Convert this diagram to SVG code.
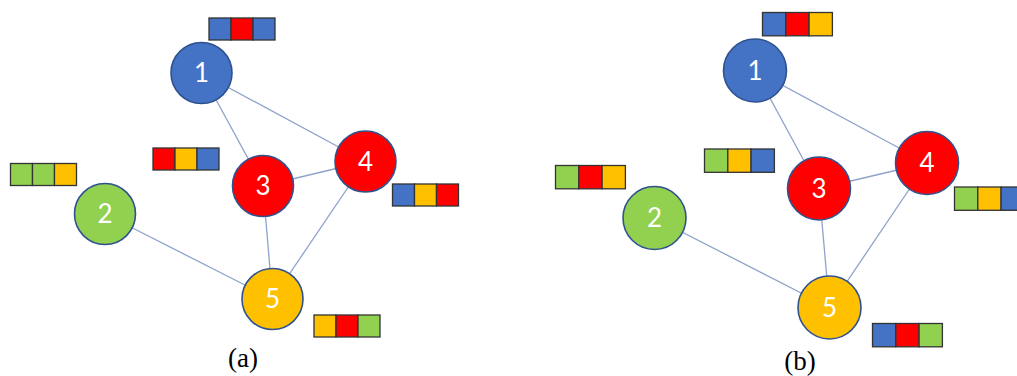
<svg xmlns="http://www.w3.org/2000/svg" width="1017" height="376" viewBox="0 0 1017 376">
<style>
.edge{stroke:#8FA3CA;stroke-width:1.3;fill:none}
.nd{stroke:#2F528F;stroke-width:1.6}
.b{fill:#4472C4}.r{fill:#FF0000}.g{fill:#92D050}.y{fill:#FFC000}
.cell{stroke:#333;stroke-width:1.3}
.lbl{font-family:Lato,"Open Sans",sans-serif;font-size:26px;fill:#fff;text-anchor:middle}
.cap{font-family:"Liberation Serif",serif;fill:#000;text-anchor:middle}
</style>
<rect width="1017" height="376" fill="#fff"/>
<!-- Panel (a) -->
<g id="edges-a">
<line class="edge" x1="201.5" y1="73" x2="263" y2="186"/>
<line class="edge" x1="201.5" y1="73" x2="365.5" y2="161.5"/>
<line class="edge" x1="263" y1="186" x2="365.5" y2="161.5"/>
<line class="edge" x1="263" y1="186" x2="272.5" y2="299"/>
<line class="edge" x1="365.5" y1="161.5" x2="272.5" y2="299"/>
<line class="edge" x1="105" y1="214" x2="272.5" y2="299"/>
</g>
<g id="a-node1"><circle class="nd b" cx="201.5" cy="73" r="30.5"/><text class="lbl" x="201.5" y="82">1</text></g>
<g id="a-node2"><circle class="nd g" cx="105" cy="214" r="30.5"/><text class="lbl" x="105" y="223">2</text></g>
<g id="a-node3"><circle class="nd r" cx="263" cy="186" r="30.5"/><text class="lbl" x="263" y="195">3</text></g>
<g id="a-node4"><circle class="nd r" cx="365.5" cy="161.5" r="30.5"/><text class="lbl" x="365.5" y="170.5">4</text></g>
<g id="a-node5"><circle class="nd y" cx="272.5" cy="299" r="30.5"/><text class="lbl" x="272.5" y="308">5</text></g>
<g id="a-bar1"><rect class="cell b" x="209" y="18" width="22" height="22"/><rect class="cell r" x="231" y="18" width="22" height="22"/><rect class="cell b" x="253" y="18" width="22" height="22"/></g>
<g id="a-bar3"><rect class="cell r" x="153" y="148" width="22" height="22"/><rect class="cell y" x="175" y="148" width="22" height="22"/><rect class="cell b" x="197" y="148" width="22" height="22"/></g>
<g id="a-bar2"><rect class="cell g" x="10.5" y="163.5" width="22" height="22"/><rect class="cell g" x="32.5" y="163.5" width="22" height="22"/><rect class="cell y" x="54.5" y="163.5" width="22" height="22"/></g>
<g id="a-bar4"><rect class="cell b" x="392.5" y="184" width="22" height="22"/><rect class="cell y" x="414.5" y="184" width="22" height="22"/><rect class="cell r" x="436.5" y="184" width="22" height="22"/></g>
<g id="a-bar5"><rect class="cell y" x="314" y="315" width="22" height="22"/><rect class="cell r" x="336" y="315" width="22" height="22"/><rect class="cell g" x="358" y="315" width="22" height="22"/></g>
<text class="cap" x="243" y="367" font-size="27">(a)</text>
<!-- Panel (b) -->
<g id="edges-b">
<line class="edge" x1="755" y1="70.5" x2="819" y2="188.5"/>
<line class="edge" x1="755" y1="70.5" x2="927" y2="163"/>
<line class="edge" x1="819" y1="188.5" x2="927" y2="163"/>
<line class="edge" x1="819" y1="188.5" x2="829.5" y2="307.5"/>
<line class="edge" x1="927" y1="163" x2="829.5" y2="307.5"/>
<line class="edge" x1="654.5" y1="218" x2="829.5" y2="307.5"/>
</g>
<g id="b-node1"><circle class="nd b" cx="755" cy="70.5" r="31.5"/><text class="lbl" x="755" y="79.5">1</text></g>
<g id="b-node2"><circle class="nd g" cx="654.5" cy="218" r="31.5"/><text class="lbl" x="654.5" y="227">2</text></g>
<g id="b-node3"><circle class="nd r" cx="819" cy="188.5" r="31.5"/><text class="lbl" x="819" y="197.5">3</text></g>
<g id="b-node4"><circle class="nd r" cx="927" cy="163" r="31.5"/><text class="lbl" x="927" y="172">4</text></g>
<g id="b-node5"><circle class="nd y" cx="829.5" cy="307.5" r="31.5"/><text class="lbl" x="829.5" y="316.5">5</text></g>
<g id="b-bar1"><rect class="cell b" x="762.5" y="12.5" width="23.3" height="23.3"/><rect class="cell r" x="785.8" y="12.5" width="23.3" height="23.3"/><rect class="cell y" x="809.1" y="12.5" width="23.3" height="23.3"/></g>
<g id="b-bar3"><rect class="cell g" x="704.5" y="149" width="23.3" height="23.3"/><rect class="cell y" x="727.8" y="149" width="23.3" height="23.3"/><rect class="cell b" x="751.1" y="149" width="23.3" height="23.3"/></g>
<g id="b-bar2"><rect class="cell g" x="555.5" y="165.5" width="23.3" height="23.3"/><rect class="cell r" x="578.8" y="165.5" width="23.3" height="23.3"/><rect class="cell y" x="602.1" y="165.5" width="23.3" height="23.3"/></g>
<g id="b-bar4"><rect class="cell g" x="954.5" y="187" width="23.3" height="23.3"/><rect class="cell y" x="977.8" y="187" width="23.3" height="23.3"/><rect class="cell b" x="1001.1" y="187" width="23.3" height="23.3"/></g>
<g id="b-bar5"><rect class="cell b" x="872.5" y="323.5" width="23.3" height="23.3"/><rect class="cell r" x="895.8" y="323.5" width="23.3" height="23.3"/><rect class="cell g" x="919.1" y="323.5" width="23.3" height="23.3"/></g>
<text class="cap" x="800" y="370" font-size="27">(b)</text>
</svg>
